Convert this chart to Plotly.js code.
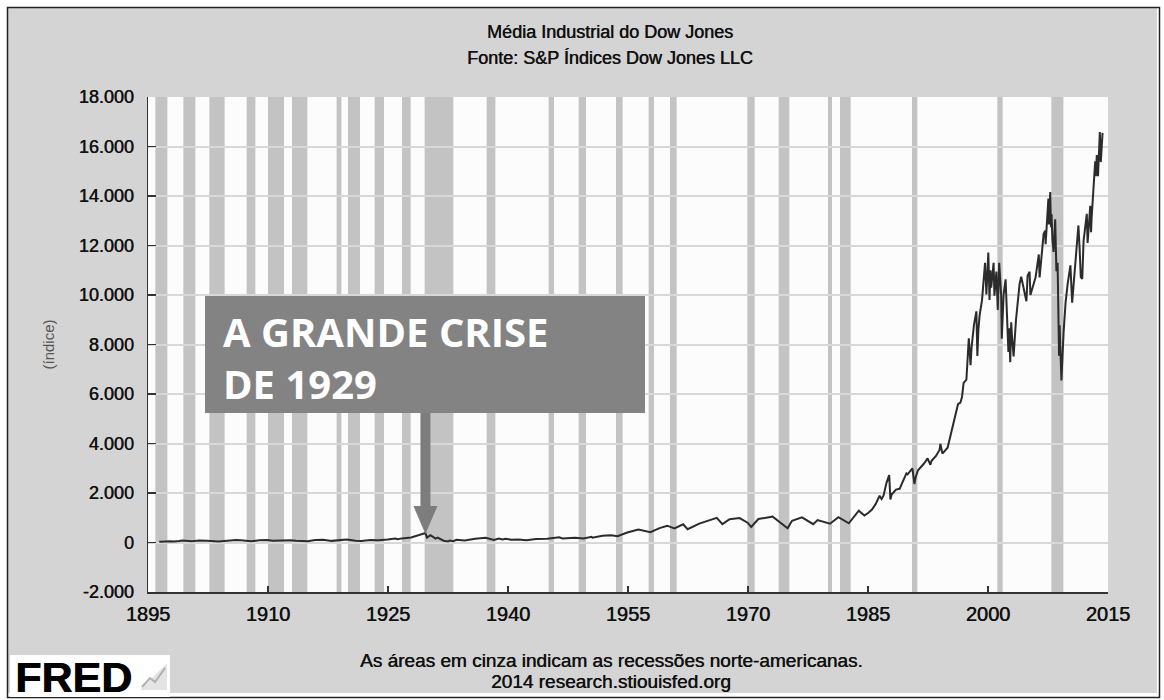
<!DOCTYPE html>
<html>
<head>
<meta charset="utf-8">
<script src="https://cdn.plot.ly/plotly-3.0.1.min.js"></script>
<style>html,body{margin:0;padding:0;background:#fff;}#chart{width:1164px;height:700px;}</style>
</head>
<body>
<div id="chart"></div>
<script>
// ---- data ----
const years = [1896.40,1896.62,1897.70,1898.25,1898.90,1899.30,1900.50,1901.40,1902.40,1903.80,1904.90,1906.00,1906.60,1907.90,1908.90,1909.90,1910.60,1911.50,1912.80,1913.50,1914.50,1914.95,1915.90,1916.90,1917.95,1918.80,1919.85,1920.95,1921.65,1922.80,1923.80,1924.95,1925.90,1926.25,1926.70,1927.90,1928.90,1929.68,1929.87,1930.30,1930.95,1931.20,1931.95,1932.52,1932.70,1933.15,1933.55,1934.60,1935.90,1937.20,1938.25,1938.85,1939.30,1939.70,1940.40,1941.30,1942.30,1943.50,1944.90,1945.90,1946.40,1946.80,1947.50,1948.40,1949.45,1950.45,1950.55,1951.80,1952.90,1953.70,1954.90,1955.90,1956.30,1957.80,1958.95,1959.90,1960.80,1961.90,1962.45,1963.90,1964.95,1966.10,1966.80,1967.70,1968.95,1969.95,1970.40,1971.30,1972.95,1973.05,1974.95,1975.50,1976.75,1978.15,1978.70,1979.85,1980.25,1981.30,1982.60,1983.85,1984.55,1985.05,1985.50,1985.95,1986.45,1986.70,1986.95,1987.30,1987.65,1987.80,1987.95,1988.50,1988.95,1989.80,1989.95,1990.55,1990.80,1990.95,1991.25,1991.95,1992.45,1992.80,1992.95,1993.50,1993.95,1994.05,1994.30,1994.95,1995.30,1995.60,1995.95,1996.25,1996.55,1996.75,1996.95,1997.30,1997.60,1997.82,1997.95,1998.25,1998.55,1998.67,1998.80,1998.95,1999.25,1999.40,1999.63,1999.80,1999.95,2000.04,2000.19,2000.30,2000.40,2000.70,2000.80,2000.95,2001.05,2001.22,2001.40,2001.65,2001.72,2001.95,2002.20,2002.55,2002.63,2002.78,2002.90,2003.00,2003.20,2003.50,2003.95,2004.15,2004.80,2004.95,2005.20,2005.30,2005.95,2006.35,2006.45,2006.95,2007.15,2007.20,2007.55,2007.62,2007.78,2007.88,2007.95,2008.05,2008.20,2008.40,2008.55,2008.70,2008.80,2008.88,2008.95,2009.05,2009.18,2009.45,2009.70,2009.95,2010.30,2010.52,2010.95,2011.30,2011.45,2011.60,2011.78,2011.95,2012.35,2012.45,2012.78,2012.88,2012.95,2013.20,2013.40,2013.48,2013.60,2013.75,2013.98,2014.10,2014.25,2014.32];
const djia = [40,29,55,42,60,77,53,78,67,42,73,103,86,53,88,100,73,87,94,73,71,54,99,110,66,89,119,67,64,103,86,120,159,135,166,200,300,381,199,294,158,194,74,41,79,50,108,85,148,194,99,158,121,155,111,120,93,145,152,195,212,163,187,193,162,228,197,275,292,255,404,488,521,420,583,679,566,734,536,762,874,995,744,943,985,800,631,950,1036,1052,577,880,1015,742,907,800,759,1024,777,1287,1087,1200,1330,1550,1890,1760,1900,2400,2722,1739,1940,2140,2170,2790,2750,2999,2365,2630,2920,3170,3400,3140,3300,3500,3750,3980,3590,3830,4320,4710,5117,5590,5650,5880,6450,6580,8250,7160,7900,8800,9340,7540,8590,9180,9780,10560,11300,10020,11500,11720,9800,11000,10300,11300,9975,10790,10950,9400,11300,9950,8235,10020,10630,7700,8660,7286,8900,8340,7520,9000,10450,10740,9750,10780,10940,10000,10720,11640,10710,12460,12600,12050,13900,12850,14165,12740,13260,12240,11740,13060,10960,11300,8450,7550,8780,8000,6550,8500,9700,10430,11200,9690,11580,12810,11900,10720,10650,12200,13280,12100,13600,12540,13100,14600,15400,14800,15650,14800,16580,15370,16400,16550];

// US recessions (NBER), decimal years
const recessionStart = [1895.92,1899.42,1902.67,1907.33,1910.00,1913.00,1918.58,1920.00,1923.33,1926.75,1929.58,1937.33,1945.08,1948.83,1953.50,1957.58,1960.25,1969.92,1973.83,1980.00,1981.50,1990.50,2001.17,2007.92];
const recessionEnd   = [1897.42,1900.92,1904.58,1908.42,1912.00,1914.92,1919.17,1921.50,1924.50,1927.83,1933.17,1938.42,1945.75,1949.75,1954.33,1958.25,1961.08,1970.83,1975.17,1980.50,1982.83,1991.17,2001.83,2009.42];

const xTickVals = [1895,1910,1925,1940,1955,1970,1985,2000,2015];
const xTickText = ['1895','1910','1925','1940','1955','1970','1985','2000','2015'];
const yTickVals = [-2000,0,2000,4000,6000,8000,10000,12000,14000,16000,18000];
const yTickText = ['-2.000','0','2.000','4.000','6.000','8.000','10.000','12.000','14.000','16.000','18.000'];

const titleText = 'Média Industrial do Dow Jones';
const subtitleText = 'Fonte: S&P Índices Dow Jones LLC';
const yTitleText = '(índice)';
const calloutText = 'A GRANDE CRISE<br>DE 1929';
const noteLine1 = 'As áreas em cinza indicam as recessões norte-americanas.';
const noteLine2 = '2014 research.stiouisfed.org';

// ---- layout helpers (pixel -> paper) ----
const W = 1164, H = 700, ML = 148, MR = 56, MT = 97, MB = 108;
const PW = W - ML - MR, PH = H - MT - MB;
const PX = x => (x - ML) / PW;
const PY = y => (H - MB - y) / PH;
const font = 'Liberation Sans, Arial, Helvetica, sans-serif';
const boldish = '0.45px 0 0 #111';

// peak of the 1929 boom, where the arrow points
let peakIdx = 0;
years.forEach((yr, i) => { if (yr < 1935 && djia[i] > djia[peakIdx]) peakIdx = i; });
const peakX = years[peakIdx];

const shapes = [];
recessionStart.forEach((s, i) => {
  shapes.push({type:'rect', xref:'x', yref:'y', x0:s, x1:recessionEnd[i], y0:-2000, y1:18000,
    fillcolor:'#c3c3c3', line:{width:0}, layer:'below'});
});
// callout box
shapes.push({type:'rect', xref:'paper', yref:'paper', x0:PX(205), x1:PX(645), y0:PY(413), y1:PY(296),
  fillcolor:'#838383', line:{width:0}, layer:'above'});
// arrow shaft + head
{
  const tipPx = ML + (peakX - 1895) / 120 * PW;
  shapes.push({type:'rect', xref:'paper', yref:'paper', x0:PX(tipPx-5), x1:PX(tipPx+5), y0:PY(507), y1:PY(413),
    fillcolor:'#7d7d7d', line:{width:0}, layer:'above'});
  shapes.push({type:'path', xref:'paper', yref:'paper',
    path:`M ${PX(tipPx-12)} ${PY(506)} L ${PX(tipPx+12)} ${PY(506)} L ${PX(tipPx)} ${PY(534)} Z`,
    fillcolor:'#7d7d7d', line:{width:0}, layer:'above'});
}
// outer white margin + black frame
shapes.push({type:'rect', xref:'paper', yref:'paper', x0:PX(0), x1:PX(W), y0:PY(H), y1:PY(0),
  fillcolor:'rgba(0,0,0,0)', line:{color:'#ffffff', width:14}, layer:'above'});
shapes.push({type:'rect', xref:'paper', yref:'paper', x0:PX(7.5), x1:PX(1159.5), y0:PY(697.5), y1:PY(7.5),
  fillcolor:'rgba(0,0,0,0)', line:{color:'#222', width:1.5}, layer:'above'});
// FRED logo box + icon
shapes.push({type:'rect', xref:'paper', yref:'paper', x0:PX(10), x1:PX(170), y0:PY(697), y1:PY(655),
  fillcolor:'#ffffff', line:{width:0}, layer:'above'});
shapes.push({type:'path', xref:'paper', yref:'paper',
  path:`M ${PX(140)} ${PY(690)} L ${PX(167)} ${PY(690)} L ${PX(167)} ${PY(663)} Z`,
  fillcolor:'#e4e4e4', line:{width:0}, layer:'above'});
shapes.push({type:'path', xref:'paper', yref:'paper',
  path:`M ${PX(142)} ${PY(687)} L ${PX(150)} ${PY(678)} L ${PX(155)} ${PY(682)} L ${PX(165)} ${PY(668)}`,
  line:{color:'#b0b0b0', width:2}, layer:'above'});

const annotations = [
  {xref:'paper', yref:'paper', x:PX(610), y:PY(58), text:subtitleText, showarrow:false,
   xanchor:'center', yanchor:'middle', font:{family:font, size:18, color:'#111', shadow:boldish}},
  {xref:'paper', yref:'paper', x:PX(221), y:PY(357), text:calloutText, showarrow:false, align:'left',
   xanchor:'left', yanchor:'middle', font:{family:'Open Sans, Liberation Sans, sans-serif', size:40, color:'#ffffff', weight:700}},
  {xref:'paper', yref:'paper', x:PX(611), y:PY(660), text:noteLine1, showarrow:false,
   xanchor:'center', yanchor:'middle', font:{family:font, size:19, color:'#111', shadow:boldish}},
  {xref:'paper', yref:'paper', x:PX(611), y:PY(681), text:noteLine2, showarrow:false,
   xanchor:'center', yanchor:'middle', font:{family:font, size:19, color:'#111', shadow:boldish}},
  {xref:'paper', yref:'paper', x:PX(13), y:PY(677), text:'<b>FRED</b>', showarrow:false,
   xanchor:'left', yanchor:'middle', font:{family:'Liberation Sans, Arial, sans-serif', size:43, color:'#000', shadow:'0.8px 0 0 #000'}}
];

const trace = {
  x: years, y: djia, type:'scatter', mode:'lines',
  line:{color:'#2b2b2b', width:2}, hoverinfo:'x+y', showlegend:false
};

const layout = {
  width:W, height:H,
  margin:{l:ML, r:MR, t:MT, b:MB, pad:0},
  paper_bgcolor:'#d4d4d4', plot_bgcolor:'#fcfcfc',
  font:{family:font, color:'#111'},
  title:{text:titleText, x:PX(610)*PW/W + ML/W, xanchor:'center', y:1-32/H, yanchor:'middle',
         font:{family:font, size:18, color:'#111', shadow:boldish}},
  xaxis:{range:[1895,2015], tickmode:'array', tickvals:xTickVals, ticktext:xTickText,
         ticks:'inside', ticklen:6, tickwidth:1.5, tickcolor:'#333', ticklabelstandoff:3,
         showgrid:false, zeroline:false, showline:true, linecolor:'#333', linewidth:1.5,
         tickfont:{family:font, size:20, color:'#111', shadow:boldish}, fixedrange:true},
  yaxis:{range:[-2000,18000], tickmode:'array', tickvals:yTickVals, ticktext:yTickText,
         ticks:'inside', ticklen:8, tickwidth:1.5, tickcolor:'#333', ticklabelstandoff:9,
         showgrid:true, gridcolor:'#d8d8d8', gridwidth:2, zeroline:false,
         showline:true, linecolor:'#333', linewidth:1.5,
         tickfont:{family:font, size:18, color:'#111', shadow:boldish},
         title:{text:yTitleText, standoff:20, font:{family:font, size:15, color:'#555'}}, fixedrange:true},
  shapes:shapes, annotations:annotations
};

Plotly.newPlot('chart', [trace], layout, {displayModeBar:false, staticPlot:true});
</script>
</body>
</html>
